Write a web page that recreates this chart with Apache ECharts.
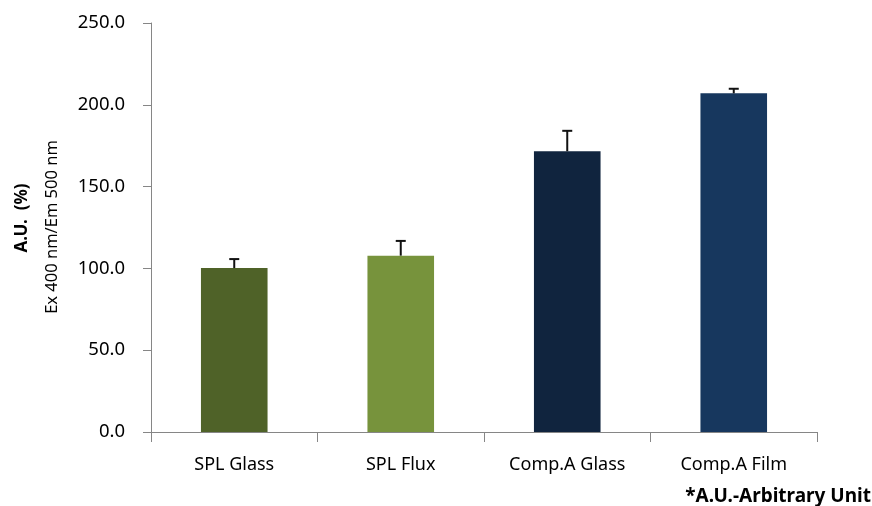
<!DOCTYPE html>
<html><head><meta charset="utf-8">
<script src="https://cdn.jsdelivr.net/npm/echarts@6/dist/echarts.min.js"></script>
<style>html,body{margin:0;padding:0;background:#fff}#c{width:872px;height:506px}</style>
</head><body><div id="c"></div>
<script>
const categories = ['SPL Glass', 'SPL Flux', 'Comp.A Glass', 'Comp.A Film'];
const values = [100.2, 107.8, 171.6, 207.0];
const errors = [5.5, 9.0, 12.5, 2.8];
const colors = ['#4f6228', '#77933c', '#10243e', '#17375e'];
const yTicks = { min: 0, max: 250, interval: 50 };

const chart = echarts.init(document.getElementById('c'));
const font = '"Noto Sans", "DejaVu Sans", sans-serif';
chart.setOption({
  animation: false,
  backgroundColor: '#fff',
  grid: { left: 151, right: 55, top: 23, bottom: 74 },
  xAxis: {
    type: 'category', data: categories,
    axisLine: { lineStyle: { color: '#868686', width: 1 } },
    axisTick: { show: true, length: 10, alignWithLabel: false, lineStyle: { color: '#868686' } },
    axisLabel: { color: '#000', fontSize: 18, fontFamily: font, margin: 24 }
  },
  yAxis: {
    type: 'value', min: yTicks.min, max: yTicks.max, interval: yTicks.interval,
    axisLine: { show: true, lineStyle: { color: '#868686' } },
    axisTick: { show: true, length: 8, lineStyle: { color: '#868686' } },
    splitLine: { show: false },
    axisLabel: { color: '#000', fontSize: 18.5, fontFamily: font, margin: 26,
      formatter: v => v.toFixed(1) }
  },
  series: [
    {
      type: 'bar', barWidth: '40%',
      data: values.map((v, i) => ({ value: v, itemStyle: { color: colors[i] } }))
    },
    {
      type: 'custom', z: 10,
      data: values.map((v, i) => [i, v, v + errors[i]]),
      renderItem: function (params, api) {
        const base = api.coord([api.value(0), api.value(1)]);
        const top = api.coord([api.value(0), api.value(2)]);
        const half = 5;
        const st = { stroke: '#111', lineWidth: 2 };
        return { type: 'group', children: [
          { type: 'line', shape: { x1: base[0], y1: base[1], x2: top[0], y2: top[1] }, style: st },
          { type: 'line', shape: { x1: top[0] - half, y1: top[1], x2: top[0] + half, y2: top[1] }, style: st }
        ]};
      }
    }
  ],
  graphic: [
    { type: 'text', x: 22, y: 218, rotation: Math.PI / 2, style: {
      text: 'A.U.  (%)', font: 'bold 17px ' + font, fill: '#000', textAlign: 'center', textVerticalAlign: 'middle' } },
    { type: 'text', x: 52, y: 227, rotation: Math.PI / 2, style: {
      text: 'Ex 400 nm/Em 500 nm', font: '16.5px ' + font, fill: '#000', textAlign: 'center', textVerticalAlign: 'middle' } },
    { type: 'text', right: 1, top: 487, style: {
      text: '*A.U.-Arbitrary Unit', font: 'bold 19px ' + font, fill: '#000' } }
  ]
});
</script></body></html>
